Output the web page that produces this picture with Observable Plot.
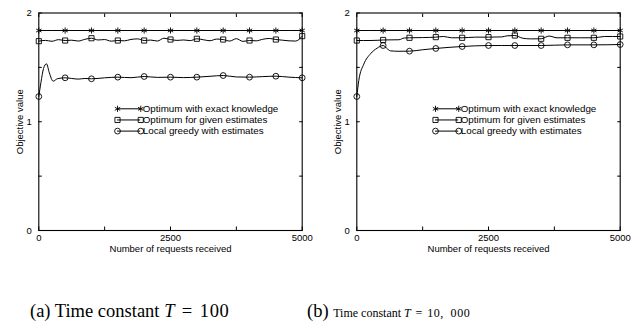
<!DOCTYPE html>
<html>
<head>
<meta charset="utf-8">
<script src="https://cdn.jsdelivr.net/npm/d3@7"></script>
<script src="https://cdn.jsdelivr.net/npm/@observablehq/plot@0.6"></script>
<style>
  html, body { margin: 0; padding: 0; background: #fff; }
  #wrap { position: relative; width: 635px; height: 326px; overflow: hidden; }
  .panel { position: absolute; top: 0; }
  .cap { position: absolute; font-family: "Liberation Serif", "DejaVu Serif", serif; color: #000; white-space: nowrap; line-height: 1; }
  .cap i { font-style: italic; }
  .eq { margin: 0 0.4em; }
</style>
</head>
<body>
<div id="wrap">
  <div id="pa" class="panel" style="left:0px"></div>
  <div id="pb" class="panel" style="left:318px"></div>
  <div class="cap" style="left:30px; top:302px; font-size:18.5px">(a) Time constant <i>T</i><span class="eq">=</span><span style="letter-spacing:0.04em">100</span></div>
  <div class="cap" style="left:307px; top:302px; font-size:18.5px">(b) <span style="font-size:12px">Time constant&nbsp;<i>T</i><span class="eq">=</span><span style="letter-spacing:0.05em">10,&ensp;000</span></span></div>
</div>
<script>
// ---------- data ----------
const seriesNames = ["Optimum with exact knowledge", "Optimum for given estimates", "Local greedy with estimates"];
const xTickLabels = [0, 2500, 5000];
const yTickLabels = [0, 1, 2];

// Panel (a): T = 100
const aExactX = [0, 500, 1000, 1500, 2000, 2500, 3000, 3500, 4000, 4500, 5000];
const aExactY = [1.839, 1.839, 1.839, 1.839, 1.839, 1.839, 1.839, 1.839, 1.839, 1.839, 1.839];
const aGivenX = [0,125,250,375,500,625,750,875,1000,1125,1250,1375,1500,1625,1750,1875,2000,2125,2250,2375,2500,2625,2750,2875,3000,3125,3250,3375,3500,3625,3750,3875,4000,4125,4250,4375,4500,4625,4750,4875,5000];
const aGivenY = [1.741,1.748,1.740,1.755,1.747,1.750,1.742,1.758,1.768,1.752,1.756,1.741,1.747,1.744,1.757,1.762,1.747,1.751,1.742,1.768,1.756,1.748,1.752,1.746,1.763,1.754,1.745,1.760,1.756,1.742,1.764,1.739,1.747,1.744,1.758,1.766,1.756,1.750,1.744,1.742,1.787];
const aGreedyX = [0,40,90,146,200,273,350,500,625,750,875,1000,1250,1500,1750,2000,2250,2500,2750,3000,3250,3500,3750,4000,4250,4500,4750,5000];
const aGreedyY = [1.232,1.36,1.49,1.533,1.45,1.373,1.395,1.404,1.398,1.392,1.398,1.395,1.404,1.41,1.405,1.416,1.408,1.41,1.406,1.41,1.418,1.425,1.412,1.41,1.415,1.419,1.41,1.404];

// Panel (b): T = 10,000
const bExactX = [0, 500, 1000, 1500, 2000, 2500, 3000, 3500, 4000, 4500, 5000];
const bExactY = [1.839, 1.839, 1.839, 1.839, 1.839, 1.839, 1.839, 1.839, 1.839, 1.839, 1.839];
const bGivenX = [0,250,400,500,650,800,900,1000,1250,1500,1650,1800,2000,2250,2500,2750,2850,3000,3150,3300,3500,3650,3800,4000,4250,4500,4700,5000];
const bGivenY = [1.747,1.747,1.749,1.752,1.753,1.754,1.770,1.772,1.774,1.778,1.784,1.772,1.772,1.778,1.778,1.780,1.790,1.793,1.768,1.762,1.763,1.788,1.772,1.772,1.772,1.772,1.784,1.784];
const bGreedyX = [0,38,133,260,387,500,580,640,800,1000,1250,1500,1750,2000,2250,2500,2750,3000,3500,4000,4500,5000];
const bGreedyY = [1.232,1.38,1.53,1.625,1.677,1.701,1.67,1.652,1.648,1.649,1.662,1.674,1.684,1.692,1.698,1.701,1.701,1.701,1.701,1.707,1.707,1.71];

// ---------- chart ----------
const symbols = ["asterisk", "square", "circle"];
const FONT = "Liberation Sans, Arial, Helvetica, sans-serif";

function zip(xs, ys, s) { return xs.map((x, i) => ({x, y: ys[i], s})); }

function panel(exact, given, greedy, width, marginRight) {
  const series = [exact, given, greedy];
  const markerPts = series.flatMap((d) => d.filter((p) => p.x % 500 === 0));
  const legend = seriesNames.map((name, i) => ({name, i, sym: symbols[i]}));
  const legY = (i) => 1.119 - i * 0.1025;
  const legX1 = 1494, legX2 = 1935;
  const fmt = d3.format("d");
  return Plot.plot({
    width, height: 258,
    marginLeft: 38.3, marginRight, marginTop: 12.5, marginBottom: 28,
    style: {fontFamily: FONT, fontSize: "9.5px", color: "#000", background: "#fff"},
    x: {domain: [0, 5000]},
    y: {domain: [0, 2]},
    symbol: {domain: symbols, range: symbols},
    marks: [
      // tick labels
      Plot.axisX({ticks: xTickLabels, tickSize: 0, tickPadding: 3.5, tickFormat: fmt, label: null, fontSize: 9.5}),
      Plot.axisY({ticks: yTickLabels, tickSize: 0, tickPadding: 7, tickFormat: fmt, label: null, fontSize: 9.5}),
      // inward ticks on all sides
      Plot.axisX({anchor: "bottom", ticks: d3.range(0, 5001, 1250), tickSize: -3.5, tickFormat: () => "", label: null}),
      Plot.axisX({anchor: "top", ticks: d3.range(0, 5001, 1250), tickSize: -3.5, tickFormat: () => "", label: null}),
      Plot.axisY({anchor: "left", ticks: d3.range(0, 2.01, 0.5), tickSize: -3.5, tickFormat: () => "", label: null}),
      Plot.axisY({anchor: "right", ticks: d3.range(0, 2.01, 0.5), tickSize: -3.5, tickFormat: () => "", label: null}),
      Plot.text(["Objective value"], {frameAnchor: "left", textAnchor: "middle", dx: -19, rotate: -90, fontSize: 9.5, text: (d) => d}),
      Plot.text(["Number of requests received"], {frameAnchor: "bottom", dy: 21, fontSize: 9.5, text: (d) => d}),
      // data lines
      ...series.map((d) => Plot.line(d, {x: "x", y: "y", stroke: "#000", strokeWidth: 1, curve: "monotone-x"})),
      Plot.dot(markerPts, {x: "x", y: "y", symbol: "s", r: 2.9, stroke: "#000", fill: "none", strokeWidth: 0.9}),
      // legend
      Plot.ruleY(legend, {y: (d) => legY(d.i), x1: legX1, x2: legX2, stroke: "#000", strokeWidth: 1}),
      Plot.dot(legend, {x: legX1, y: (d) => legY(d.i), symbol: "sym", r: 2.9, stroke: "#000", fill: "none", strokeWidth: 0.9}),
      Plot.dot(legend, {x: legX2, y: (d) => legY(d.i), symbol: "sym", r: 2.9, stroke: "#000", fill: "none", strokeWidth: 0.9}),
      Plot.text(legend, {x: legX2, y: (d) => legY(d.i), text: "name", textAnchor: "start", dx: 2, fontSize: 9.8, fill: "#000"}),
      Plot.frame({stroke: "#000", strokeWidth: 1.1})
    ]
  });
}

document.getElementById("pa").append(panel(
  zip(aExactX, aExactY, "asterisk"), zip(aGivenX, aGivenY, "square"), zip(aGreedyX, aGreedyY, "circle"), 318, 16.3));
document.getElementById("pb").append(panel(
  zip(bExactX, bExactY, "asterisk"), zip(bGivenX, bGivenY, "square"), zip(bGreedyX, bGreedyY, "circle"), 317, 15.3));
</script>
</body>
</html>
